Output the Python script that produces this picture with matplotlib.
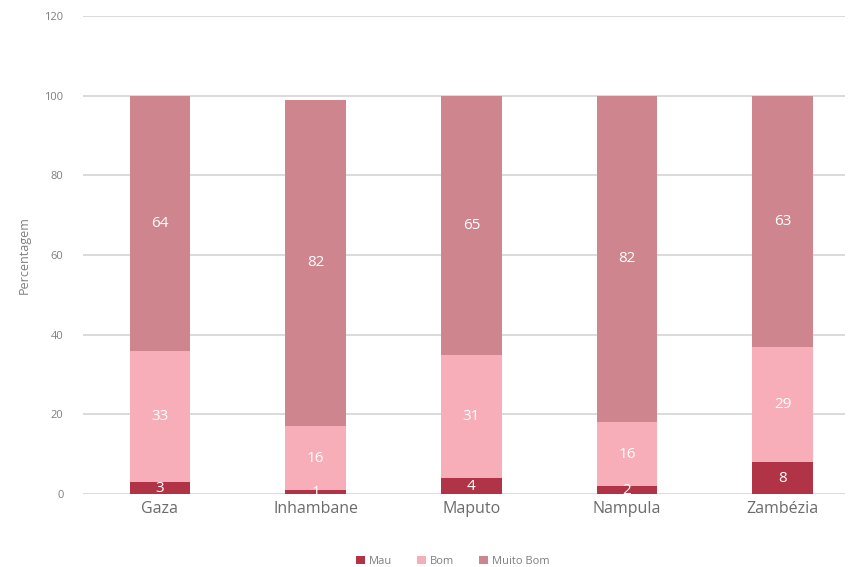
import matplotlib
matplotlib.use("Agg")
import matplotlib.pyplot as plt
import numpy as np

plt.rcParams['font.family'] = ['Open Sans', 'DejaVu Sans']

provinces = ["Gaza", "Inhambane", "Maputo", "Nampula", "Zambézia"]
mau = [3, 1, 4, 2, 8]
bom = [33, 16, 31, 16, 29]
muito_bom = [64, 82, 65, 82, 63]

series = [("Mau", mau, "#b03446"), ("Bom", bom, "#f7aeb8"), ("Muito Bom", muito_bom, "#ce858e")]

fig = plt.figure(figsize=(8.54, 5.67), dpi=100)
ax = fig.add_axes([0.0972, 0.1287, 0.8923, 0.8431])

x = np.arange(len(provinces))
bottom = np.zeros(len(provinces))
for name, vals, col in series:
    vals = np.array(vals, dtype=float)
    ax.bar(x, vals, 0.39, bottom=bottom, color=col, label=name, zorder=3)
    for xi, b, v in zip(x, bottom, vals):
        ax.text(xi, b + v / 2, f"{v:.0f}", ha='center', va='center',
                color='white', fontsize=11, zorder=4)
    bottom += vals

ax.set_xlim(-0.494, 4.40)
ax.set_ylim(0, 120)
ax.set_yticks(range(0, 121, 20))
ax.yaxis.grid(True, color='#d4d4d4', linewidth=1.2, zorder=0)
for s in ax.spines.values():
    s.set_visible(False)
ax.tick_params(axis='y', length=0, labelsize=8, labelcolor='#7f7f7f', pad=14)
ax.tick_params(axis='x', length=0, labelsize=11.5, labelcolor='#6b6b6b', pad=5)
ax.set_xticks(x)
ax.set_xticklabels(provinces)
ax.set_ylabel("Percentagem", fontsize=9, color='#7f7f7f', labelpad=10)

leg = fig.legend(loc='lower center', bbox_to_anchor=(0.53, -0.017), ncol=3,
                 frameon=False, fontsize=8, handlelength=0.8, handleheight=0.8,
                 columnspacing=2.2, handletextpad=0.4)
for t in leg.get_texts():
    t.set_color('#7f7f7f')

fig.savefig("out.png", dpi=100)
